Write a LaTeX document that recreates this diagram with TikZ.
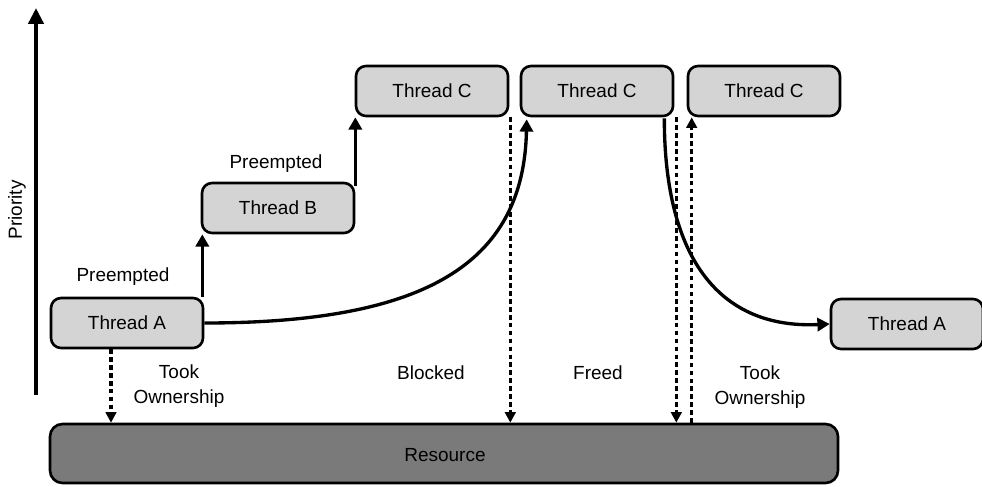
\documentclass[tikz,border=0pt]{standalone}
\usepackage{fontspec}
\setmainfont{Liberation Sans}
\usetikzlibrary{arrows.meta}
\begin{document}
\begin{tikzpicture}
		\tikzstyle{every node}=[font=\fontsize{10.8pt}{14.2pt}\selectfont]
		\tikzstyle{thread}=[draw, line width=1.5pt, rounded corners=0.2cm, fill={rgb,255:red,212; green,212; blue,212}, minimum width=3.04cm, minimum height=1.0cm, inner sep=0pt]
		\tikzstyle{solidarrow}=[line width=1.9pt, -{Triangle[width=7.5pt,length=7pt]}]
		\tikzstyle{dottedarrow}=[line width=2pt, dash pattern=on 2.6pt off 1.9pt, -{Triangle[width=6pt,length=6pt]}]
		\useasboundingbox (0,0) rectangle (19.64,9.72);
		% priority axis
		\draw [line width=2.4pt, -{Triangle[width=8.5pt,length=9pt]}] (0.72,1.82) -- (0.72,9.56);
		\node [rotate=90] (prio) at (0.34,5.52) {Priority};
		% resource
		\node [draw, line width=1.5pt, rounded corners=0.25cm, fill={rgb,255:red,122; green,122; blue,122}, minimum width=15.76cm, minimum height=1.18cm] (res) at (8.88,0.65) {};
		\node (restext) at (8.9,0.62) {Resource};
		% threads
		\node [thread] (tA) at (2.54,3.26) {Thread A};
		\node [thread] (tB) at (5.56,5.56) {Thread B};
		\node [thread] (tC1) at (8.64,7.90) {Thread C};
		\node [thread] (tC2) at (11.94,7.90) {Thread C};
		\node [thread] (tC3) at (15.28,7.90) {Thread C};
		\node [thread] (tA2) at (18.14,3.24) {Thread A};
		% labels
		\node (pre1) at (2.46,4.18) {Preempted};
		\node (pre2) at (5.52,6.44) {Preempted};
		\node [align=center] (took1) at (3.58,2.0) {Took\\Ownership};
		\node (blocked) at (8.62,2.26) {Blocked};
		\node (freed) at (11.96,2.26) {Freed};
		\node [align=center] (took2) at (15.2,1.98) {Took\\Ownership};
		% priority changes
		\draw [solidarrow] ([xshift=-0.04cm]tA.north east) -- ([xshift=-0.04cm]tA.north east |- tB.south);
		\draw [solidarrow] ([yshift=-0.08cm]tB.north east) -- (tB.north east |- tC1.south);
		\coordinate (cUp) at ([xshift=0.14cm,yshift=-0.04cm]tC2.south west);
		\draw [solidarrow] (tA.east) .. controls +(4.4,0) and +(-0.06,-2.9) .. (cUp);
		\coordinate (cDown) at ([xshift=-0.2cm,yshift=-0.02cm]tC2.south east);
		\draw [solidarrow] (cDown) .. controls +(0,-2.86) and +(-2.16,-0.1) .. (tA2.west);
		% resource events
		\draw [dottedarrow] ([xshift=-0.32cm]tA.south) -- ([xshift=-0.32cm]tA.south |- res.north);
		\draw [dottedarrow] ([xshift=0.02cm]tC1.south east) -- ([xshift=0.02cm]tC1.south east |- res.north);
		\draw [dottedarrow] ([xshift=0.04cm]tC2.south east) -- ([xshift=0.04cm]tC2.south east |- res.north);
		\draw [dottedarrow] ([xshift=0.1cm]tC3.south west |- res.north) -- ([xshift=0.1cm]tC3.south west);
	\end{tikzpicture}
\end{document}
